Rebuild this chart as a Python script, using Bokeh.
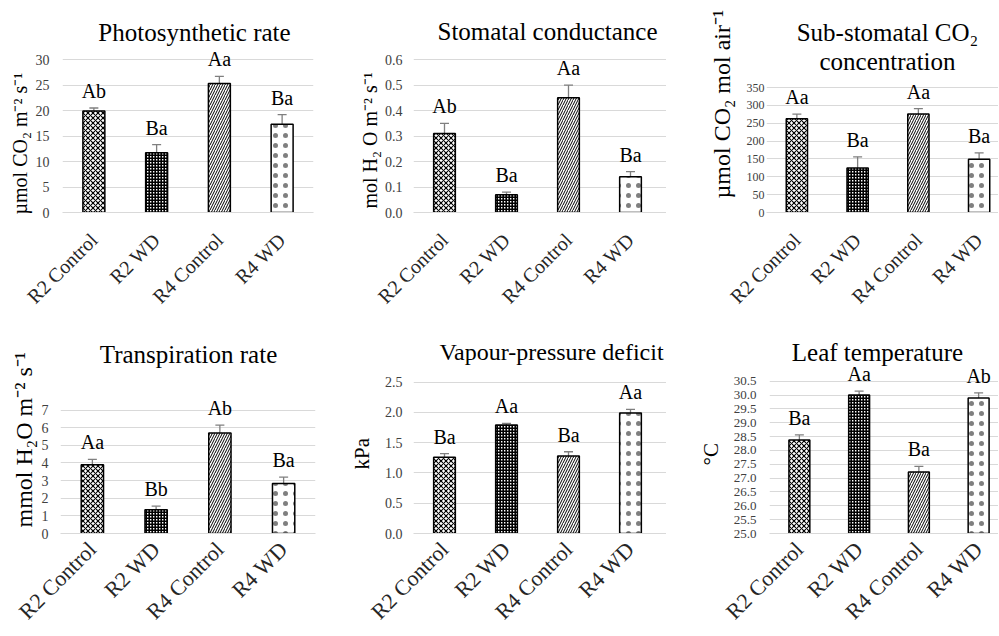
import math
from bokeh.plotting import figure
from bokeh.layouts import column, row
from bokeh.models import (ColumnDataSource, Range1d, FixedTicker,
                          Whisker, TeeHead, Label, LabelSet, NumeralTickFormatter,
                          Title)
from bokeh.core.properties import value, field
from bokeh.embed import file_html
from bokeh.resources import INLINE

# ---------------- data ----------------
categories = ["R2 Control", "R2 WD", "R4 Control", "R4 WD"]

photo_mean = [19.9, 11.7, 25.3, 17.3]
photo_err = [0.6, 1.6, 1.4, 1.9]
photo_letters = ["Ab", "Ba", "Aa", "Ba"]
photo_ticks = [0, 5, 10, 15, 20, 25, 30]
photo_tick_labels = ["0", "5", "10", "15", "20", "25", "30"]

gs_mean = [0.31, 0.07, 0.45, 0.14]
gs_err = [0.04, 0.01, 0.05, 0.02]
gs_letters = ["Ab", "Ba", "Aa", "Ba"]
gs_ticks = [0.0, 0.1, 0.2, 0.3, 0.4, 0.5, 0.6]
gs_tick_labels = ["0.0", "0.1", "0.2", "0.3", "0.4", "0.5", "0.6"]

ci_mean = [263, 125, 276, 149]
ci_err = [13, 31, 15, 18]
ci_letters = ["Aa", "Ba", "Aa", "Ba"]
ci_ticks = [0, 50, 100, 150, 200, 250, 300, 350]
ci_tick_labels = ["0", "50", "100", "150", "200", "250", "300", "350"]

tr_mean = [3.9, 1.35, 5.7, 2.83]
tr_err = [0.3, 0.2, 0.45, 0.37]
tr_letters = ["Aa", "Bb", "Ab", "Ba"]
tr_ticks = [0, 1, 2, 3, 4, 5, 6, 7]
tr_tick_labels = ["0", "1", "2", "3", "4", "5", "6", "7"]

vpd_mean = [1.26, 1.79, 1.28, 1.99]
vpd_err = [0.06, 0.03, 0.07, 0.06]
vpd_letters = ["Ba", "Aa", "Ba", "Aa"]
vpd_ticks = [0.0, 0.5, 1.0, 1.5, 2.0, 2.5]
vpd_tick_labels = ["0.0", "0.5", "1.0", "1.5", "2.0", "2.5"]

lt_mean = [28.38, 30.0, 27.22, 29.89]
lt_err = [0.18, 0.14, 0.2, 0.19]
lt_letters = ["Ba", "Aa", "Ba", "Ab"]
lt_ticks = [25.0, 25.5, 26.0, 26.5, 27.0, 27.5, 28.0, 28.5, 29.0, 29.5, 30.0, 30.5]
lt_tick_labels = ["25.0", "25.5", "26.0", "26.5", "27.0", "27.5", "28.0", "28.5",
                  "29.0", "29.5", "30.0", "30.5"]

# ---------------- styles ----------------
FONT = "Liberation Serif"
HATCH = ["diagonal_cross", "cross", "right_diagonal_line", "dot"]
HATCH_SCALE = [5, 3, 5, 10]
HATCH_WEIGHT = [1.1, 2.2, 1.0, 1.0]
HATCH_ALPHA = [1.0, 1.0, 1.0, 0.5]
GRID = "#d9d9d9"
ERR = "#7f7f7f"


def make_panel(title_lines, title_xy, title_size, ylabel, ylabel_size, ylabel_start,
               ylabel_standoff, tick_size, tick_standoff, x_size, x_standoff,
               means, errs, letters, ticks, tick_labels, origin, size, grid_box,
               frame_right):
    ox, oy = origin
    w, h = size
    fl, gt, span, fb = grid_box       # grid left, top gridline, categories span, bottom
    n = len(categories)
    y0, y1 = ticks[0], ticks[-1]
    gh = fb - gt
    y_top = y0 + (fb - oy) / gh * (y1 - y0)      # frame reaches the figure's top
    step = span / n
    x_end = -0.5 + (frame_right - fl) / step
    p = figure(width=w, height=h, x_range=Range1d(-0.5, x_end),
               y_range=Range1d(y0, y_top), output_backend="svg",
               toolbar_location=None,
               min_border_left=fl - ox, min_border_top=0,
               min_border_right=max(0, ox + w - frame_right),
               min_border_bottom=oy + h - fb)
    p.outline_line_color = None
    p.background_fill_color = "white"
    p.border_fill_color = "white"

    xs = list(range(n))
    src = ColumnDataSource(dict(
        x=xs, mean=means,
        top=[m + e for m, e in zip(means, errs)],
        low=[m - e for m, e in zip(means, errs)],
        letters=letters, hatch=HATCH, hs=HATCH_SCALE, hw=HATCH_WEIGHT,
        ha=HATCH_ALPHA))

    p.vbar(x="x", top="mean", bottom=y0, width=0.35, source=src,
           fill_color="white", line_color="black", line_width=1.5,
           hatch_pattern=field("hatch"), hatch_scale=field("hs"),
           hatch_weight=field("hw"), hatch_alpha=field("ha"), hatch_color="black")

    p.add_layout(Whisker(base="x", upper="top", lower="low", source=src,
                         line_color=ERR, line_width=1.3,
                         upper_head=TeeHead(size=9, line_color=ERR, line_width=1.3),
                         lower_head=TeeHead(size=9, line_color=ERR, line_width=1.3)))

    p.add_layout(LabelSet(x="x", y="top", text="letters", source=src,
                          y_offset=10, text_align="center",
                          text_baseline="alphabetic",
                          text_font=value(FONT), text_font_size="20px",
                          text_color="black"))

    # axes
    p.xaxis.ticker = FixedTicker(ticks=xs)
    p.xaxis.major_label_overrides = {i: c for i, c in zip(xs, categories)}
    p.xaxis.major_label_orientation = math.pi / 4
    p.xaxis.major_tick_line_color = None
    p.xaxis.minor_tick_line_color = None
    p.xaxis.axis_line_color = GRID
    p.xaxis.major_label_text_font = FONT
    p.xaxis.major_label_text_font_size = x_size
    p.xaxis.major_label_text_color = "#262626"
    p.xaxis.major_label_standoff = x_standoff

    fmt = "0.0" if "." in tick_labels[0] else "0"
    p.yaxis.ticker = FixedTicker(ticks=ticks)
    p.yaxis.formatter = NumeralTickFormatter(format=fmt)
    p.yaxis.axis_line_color = None
    p.yaxis.major_tick_line_color = None
    p.yaxis.minor_tick_line_color = None
    p.yaxis.major_tick_out = 0
    p.yaxis.major_tick_in = 0
    p.yaxis.major_label_text_font = FONT
    p.yaxis.major_label_text_font_size = tick_size
    p.yaxis.major_label_text_color = "#404040"
    p.yaxis.major_label_standoff = tick_standoff

    p.xgrid.grid_line_color = None
    p.ygrid.grid_line_color = GRID
    p.ygrid.grid_line_width = 1

    def dx(px):
        return (px - fl) / step - 0.5

    def dy(py):
        return y0 + (fb - py) / gh * (y1 - y0)

    tx, ty = title_xy
    for k, line in enumerate(title_lines):
        p.add_layout(Label(x=dx(tx), y=dy(ty + 30 * k), text=line,
                           text_font=FONT, text_font_size=title_size,
                           text_align="center", text_baseline="alphabetic",
                           text_color="black"))

    p.add_layout(Title(text=ylabel, align="left", offset=fb - ylabel_start,
                       standoff=ylabel_standoff, vertical_align="bottom",
                       text_font=FONT, text_font_size=ylabel_size,
                       text_font_style="normal", text_color="black"), "left")
    return p


p1 = make_panel(["Photosynthetic rate"], (194, 33), "25px",
                "µmol CO₂ m⁻² s⁻¹", "20px", 221, 4, "14px", 13, "20px", 18,
                photo_mean, photo_err, photo_letters, photo_ticks, photo_tick_labels,
                (0, 0), (333, 318), (62, 61, 251, 219), 313)
p2 = make_panel(["Stomatal conductance"], (547, 32), "25px",
                "mol H₂ O m⁻² s⁻¹", "20px", 215, 1, "14px", 11, "20px", 18,
                gs_mean, gs_err, gs_letters, gs_ticks, gs_tick_labels,
                (333, 0), (333, 318), (413, 61, 248, 219), 666)
p3 = make_panel(["Sub-stomatal CO₂", "concentration"], (887, 33), "25px",
                "µmol CO₂ mol air⁻¹", "24px", 205, 18, "12px", 2, "20px", 18,
                ci_mean, ci_err, ci_letters, ci_ticks, ci_tick_labels,
                (666, 0), (332, 318), (766, 90, 243, 219), 998)
p4 = make_panel(["Transpiration rate"], (188, 355), "25px",
                "mmol H₂O m⁻² s⁻¹", "24px", 535, 4, "14px", 12, "22px", 6,
                tr_mean, tr_err, tr_letters, tr_ticks, tr_tick_labels,
                (0, 318), (333, 317), (60, 413, 255, 541), 315)
p5 = make_panel(["Vapour-pressure deficit"], (551, 353), "24px",
                "kPa", "21px", 477, 15, "14px", 11, "22px", 6,
                vpd_mean, vpd_err, vpd_letters, vpd_ticks, vpd_tick_labels,
                (333, 318), (333, 317), (413, 384, 248, 541), 666)
p6 = make_panel(["Leaf temperature"], (877, 353), "25px",
                "°C", "21px", 473, 16, "13px", 13, "22px", 6,
                lt_mean, lt_err, lt_letters, lt_ticks, lt_tick_labels,
                (666, 318), (332, 317), (769, 383, 239, 541), 998)

layout = column(row(p1, p2, p3), row(p4, p5, p6))
open("out.html", "w").write(file_html(layout, INLINE))
